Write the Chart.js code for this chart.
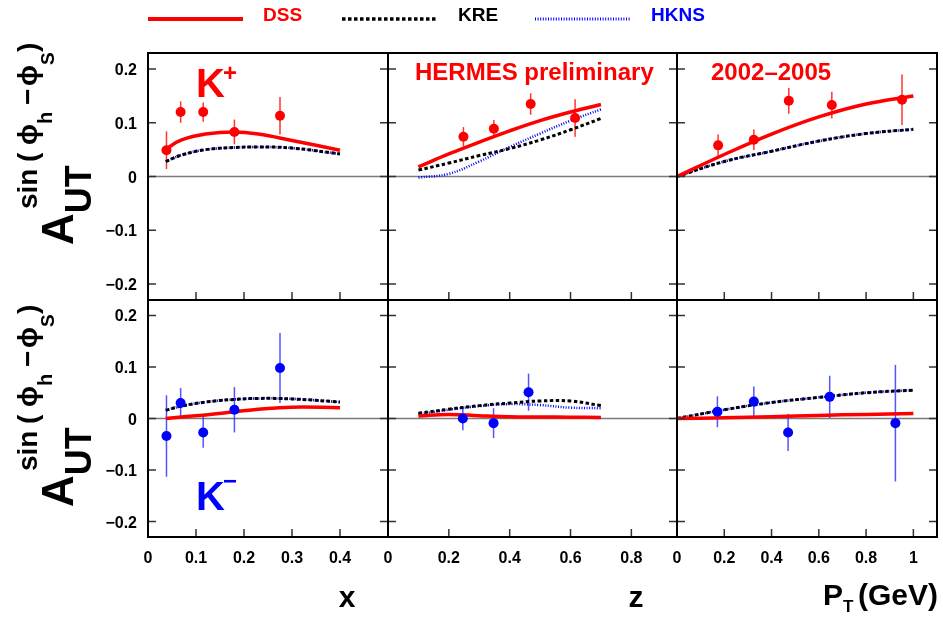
<!DOCTYPE html>
<html>
<head>
<meta charset="utf-8">
<script src="https://cdn.jsdelivr.net/npm/chart.js@4.4.1/dist/chart.umd.min.js"></script>
<style>
body { margin: 0; background: #fff; }
#wrap { position: relative; width: 943px; height: 617px; }
#wrap canvas { position: absolute; left: 0; top: 0; }
</style>
</head>
<body>
<div id="wrap"></div>
<script>
// ---- ticks ----
const xTickVals = [0, 0.1, 0.2, 0.3, 0.4];
const xTickLabels = ['0', '0.1', '0.2', '0.3', '0.4'];
const zTickVals = [0, 0.2, 0.4, 0.6, 0.8];
const zTickLabels = ['0', '0.2', '0.4', '0.6', '0.8'];
const ptTickVals = [0, 0.2, 0.4, 0.6, 0.8, 1];
const ptTickLabels = ['0', '0.2', '0.4', '0.6', '0.8', '1'];
const yTickVals = [-0.2, -0.1, 0, 0.1, 0.2];
const yTickLabels = ['\u22120.2', '\u22120.1', '0', '0.1', '0.2'];

// ---- K+ data points ----
const kpX = [0.0385, 0.068, 0.115, 0.18, 0.275];
const kpXVal = [0.049, 0.120, 0.120, 0.083, 0.113];
const kpXErr = [0.035, 0.020, 0.018, 0.023, 0.035];
const kpZ = [0.248, 0.348, 0.469, 0.615];
const kpZVal = [0.074, 0.089, 0.135, 0.109];
const kpZErr = [0.018, 0.016, 0.020, 0.035];
const kpPt = [0.174, 0.325, 0.473, 0.655, 0.952];
const kpPtVal = [0.058, 0.0685, 0.141, 0.133, 0.143];
const kpPtErr = [0.020, 0.019, 0.024, 0.025, 0.047];

// ---- K- data points ----
const kmX = [0.0385, 0.068, 0.115, 0.18, 0.275];
const kmXVal = [-0.034, 0.030, -0.027, 0.017, 0.098];
const kmXErr = [0.079, 0.029, 0.030, 0.044, 0.068];
const kmZ = [0.246, 0.347, 0.462];
const kmZVal = [0.0, -0.009, 0.051];
const kmZErr = [0.023, 0.029, 0.036];
const kmPt = [0.171, 0.325, 0.47, 0.646, 0.924];
const kmPtVal = [0.013, 0.033, -0.027, 0.042, -0.009];
const kmPtErr = [0.030, 0.029, 0.036, 0.041, 0.113];

// ---- model curves ----
const curveX = [0.037, 0.07, 0.12, 0.18, 0.23, 0.3, 0.4];
const curveZ = [0.1, 0.2, 0.3, 0.4, 0.5, 0.6, 0.7];
const curvePt = [0, 0.2, 0.4, 0.6, 0.8, 1.0];

const dssKpX = [0.051, 0.068, 0.079, 0.083, 0.079, 0.067, 0.049];
const kreKpX = [0.028, 0.040, 0.050, 0.054, 0.055, 0.053, 0.042];
const hknsKpX = [0.028, 0.040, 0.050, 0.054, 0.055, 0.053, 0.042];
const dssKpZ = [0.018, 0.042, 0.064, 0.085, 0.104, 0.120, 0.134];
const kreKpZ = [0.012, 0.025, 0.039, 0.052, 0.068, 0.087, 0.108];
const hknsKpZ = [-0.002, 0.005, 0.028, 0.055, 0.080, 0.104, 0.125];
const dssKpPt = [0.0, 0.041, 0.079, 0.111, 0.135, 0.150];
const kreKpPt = [0.0, 0.028, 0.047, 0.066, 0.080, 0.088];
const hknsKpPt = [0.0, 0.028, 0.047, 0.066, 0.080, 0.088];

const dssKmX = [0.0, 0.003, 0.007, 0.013, 0.018, 0.022, 0.021];
const kreKmX = [0.016, 0.024, 0.032, 0.037, 0.039, 0.038, 0.032];
const hknsKmX = [0.016, 0.024, 0.032, 0.037, 0.039, 0.038, 0.032];
const dssKmZ = [0.005, 0.008, 0.0055, 0.0035, 0.003, 0.0025, 0.002];
const kreKmZ = [0.010, 0.018, 0.025, 0.030, 0.034, 0.034, 0.025];
const hknsKmZ = [0.008, 0.017, 0.024, 0.028, 0.026, 0.021, 0.020];
const dssKmPt = [0.0, 0.0015, 0.0035, 0.006, 0.008, 0.0098];
const kreKmPt = [0.0, 0.017, 0.031, 0.041, 0.050, 0.055];
const hknsKmPt = [0.0, 0.017, 0.031, 0.041, 0.050, 0.055];

const FONT = '"Liberation Sans", Arial, "DejaVu Sans", sans-serif';
const RED = 'rgb(255, 0, 0)';
const BLUE = 'rgb(0, 0, 255)';
const W = 943, H = 617;

const dssStyle = { color: RED, width: 3.5, dash: [] };
const kreStyle = { color: '#000', width: 3, dash: [3.5, 2.5] };
const hknsStyle = { color: BLUE, width: 2.5, dash: [1, 1.6] };

function pointsDs(xs, ys, errs, color, errColor) {
    return {
        data: xs.map((x, i) => ({ x: x, y: ys[i] })),
        errors: errs,
        errColor: errColor,
        showLine: false,
        pointRadius: 5,
        pointBackgroundColor: color,
        pointBorderWidth: 0,
        borderColor: color
    };
}

function curveDs(xs, ys, style) {
    return {
        data: xs.map((x, i) => ({ x: x, y: ys[i] })),
        borderColor: style.color,
        borderWidth: style.width,
        borderDash: style.dash,
        pointRadius: 0,
        tension: 0.4,
        fill: false
    };
}

function txt(ctx, s, x, y, size, color, align) {
    ctx.font = 'bold ' + size + 'px ' + FONT;
    ctx.fillStyle = color;
    ctx.textAlign = align || 'left';
    ctx.textBaseline = 'alphabetic';
    ctx.fillText(s, x, y);
    return ctx.measureText(s).width;
}

function strokeLine(ctx, x1, x2, y, style) {
    ctx.save();
    ctx.strokeStyle = style.color;
    ctx.lineWidth = style.width + 0.5;
    ctx.setLineDash(style.dash);
    ctx.beginPath();
    ctx.moveTo(x1, y);
    ctx.lineTo(x2, y);
    ctx.stroke();
    ctx.restore();
}

function drawLegend(ctx) {
    strokeLine(ctx, 148, 243, 19, dssStyle);
    txt(ctx, 'DSS', 263, 21, 19, RED);
    strokeLine(ctx, 342, 437, 19, kreStyle);
    txt(ctx, 'KRE', 458, 21, 19, '#000');
    strokeLine(ctx, 535, 630, 19, hknsStyle);
    txt(ctx, 'HKNS', 651, 21, 19, BLUE);
}

// rotated A_UT^{sin(phi_h - phi_S)}
function drawYTitle(ctx, base) {
    ctx.save();
    ctx.translate(0, base);
    ctx.rotate(-Math.PI / 2);
    const wA = txt(ctx, 'A', 0, 73, 44, '#000');
    txt(ctx, 'UT', wA, 91, 36, '#000');
    const sup = [['sin', 36, 0, 28], ['(', 83, 0, 28], ['\u03d5', 100, 0, 28], ['h', 121, 15, 20],
                 ['\u2212', 140, 0, 28], ['\u03d5', 159, 0, 28], ['S', 180, 17, 19], [')', 193, 0, 28]];
    sup.forEach(s => txt(ctx, s[0], s[1], 37 + s[2], s[3], '#000'));
    ctx.restore();
}

const panelPlugin = {
    id: 'panel',
    beforeDatasetsDraw(chart, args, o) {
        const { ctx, chartArea: a, scales: { x, y } } = chart;
        ctx.save();
        const y0 = y.getPixelForValue(0);
        ctx.strokeStyle = '#7a7a7a';
        ctx.lineWidth = 1.5;
        ctx.beginPath();
        ctx.moveTo(a.left, y0);
        ctx.lineTo(a.right, y0);
        ctx.stroke();
        chart.data.datasets.forEach((ds, i) => {
            if (!ds.errors) return;
            ctx.strokeStyle = ds.errColor;
            ctx.lineWidth = 1.5;
            chart.getDatasetMeta(i).data.forEach((p, j) => {
                const v = ds.data[j].y, e = ds.errors[j];
                ctx.beginPath();
                ctx.moveTo(p.x, y.getPixelForValue(v + e));
                ctx.lineTo(p.x, y.getPixelForValue(v - e));
                ctx.stroke();
            });
        });
        ctx.restore();
    },
    afterDraw(chart, args, o) {
        const { ctx, chartArea: a, scales: { x, y } } = chart;
        ctx.save();
        // inner ticks
        ctx.strokeStyle = '#333';
        ctx.lineWidth = 1.5;
        ctx.beginPath();
        y.ticks.forEach(t => {
            const py = y.getPixelForValue(t.value);
            ctx.moveTo(a.left, py); ctx.lineTo(a.left + 8, py);
            ctx.moveTo(a.right, py); ctx.lineTo(a.right - 8, py);
        });
        x.ticks.forEach(t => {
            const px = x.getPixelForValue(t.value);
            ctx.moveTo(px, a.bottom); ctx.lineTo(px, a.bottom - 8);
        });
        ctx.stroke();
        // frame
        ctx.strokeStyle = '#000';
        ctx.lineWidth = 2;
        ctx.strokeRect(a.left, a.top, a.right - a.left, a.bottom - a.top);
        if (o.yLabels) {
            y.ticks.forEach(t => txt(ctx, t.label, a.left - 11, y.getPixelForValue(t.value) + 6, 16, '#000', 'right'));
            drawYTitle(ctx, o.yTitleBase);
        }
        if (o.xLabels) {
            x.ticks.forEach(t => txt(ctx, t.label, x.getPixelForValue(t.value), 563, 16, '#000', 'center'));
        }
        if (o.xTitle === 'x') txt(ctx, 'x', 347, 607, 30, '#000', 'center');
        if (o.xTitle === 'z') txt(ctx, 'z', 636, 607, 30, '#000', 'center');
        if (o.xTitle === 'pt') {
            const wP = txt(ctx, 'P', 823, 605, 30, '#000');
            txt(ctx, 'T', 823 + wP, 612, 17, '#000');
            txt(ctx, '(GeV)', 938, 605, 30, '#000', 'right');
        }
        if (o.legend) drawLegend(ctx);
        (o.texts || []).forEach(t => txt(ctx, t[0], t[1], t[2], t[3], t[4]));
        ctx.restore();
    }
};

function addChart(rect, xMax, tickVals, tickLabels, datasets, panel) {
    const c = document.createElement('canvas');
    c.width = W; c.height = H;
    document.getElementById('wrap').appendChild(c);
    return new Chart(c, {
        type: 'line',
        data: { datasets: datasets },
        options: {
            responsive: false,
            animation: false,
            events: [],
            layout: { padding: { left: rect[0], top: rect[1], right: W - rect[2], bottom: H - rect[3] } },
            scales: {
                x: {
                    type: 'linear', display: false, min: 0, max: xMax,
                    afterBuildTicks: s => { s.ticks = tickVals.map(v => ({ value: v })); },
                    ticks: { autoSkip: false, callback: (v, i) => tickLabels[i] }
                },
                y: {
                    type: 'linear', display: false, min: -0.23, max: 0.23,
                    afterBuildTicks: s => { s.ticks = yTickVals.map(v => ({ value: v })); },
                    ticks: { autoSkip: false, callback: (v, i) => yTickLabels[i] }
                }
            },
            plugins: {
                legend: { display: false },
                tooltip: { enabled: false },
                panel: panel
            }
        },
        plugins: [panelPlugin]
    });
}

const redErr = 'rgba(255, 0, 0, 0.8)';
const blueErr = 'rgba(40, 40, 255, 0.8)';

// top row: K+
addChart([148, 53, 388, 300], 0.5, xTickVals, xTickLabels, [
    pointsDs(kpX, kpXVal, kpXErr, RED, redErr),
    curveDs(curveX, dssKpX, dssStyle),
    curveDs(curveX, kreKpX, kreStyle),
    curveDs(curveX, hknsKpX, hknsStyle)
], { yLabels: true, yTitleBase: 245, legend: true,
     texts: [['K', 196, 97, 40, RED], ['+', 223, 81, 24, RED]] });

addChart([388, 53, 677, 300], 0.95, zTickVals, zTickLabels, [
    pointsDs(kpZ, kpZVal, kpZErr, RED, redErr),
    curveDs(curveZ, dssKpZ, dssStyle),
    curveDs(curveZ, kreKpZ, kreStyle),
    curveDs(curveZ, hknsKpZ, hknsStyle)
], { texts: [['HERMES preliminary', 415, 80, 24, RED]] });

addChart([677, 53, 937, 300], 1.1, ptTickVals, ptTickLabels, [
    pointsDs(kpPt, kpPtVal, kpPtErr, RED, redErr),
    curveDs(curvePt, dssKpPt, dssStyle),
    curveDs(curvePt, kreKpPt, kreStyle),
    curveDs(curvePt, hknsKpPt, hknsStyle)
], { texts: [['2002\u20132005', 711, 80, 24, RED]] });

// bottom row: K-
addChart([148, 300, 388, 537], 0.5, xTickVals, xTickLabels, [
    pointsDs(kmX, kmXVal, kmXErr, BLUE, blueErr),
    curveDs(curveX, dssKmX, dssStyle),
    curveDs(curveX, kreKmX, kreStyle),
    curveDs(curveX, hknsKmX, hknsStyle)
], { yLabels: true, yTitleBase: 507, xLabels: true, xTitle: 'x',
     texts: [['K', 196, 510, 40, BLUE], ['\u2212', 223, 489, 24, BLUE]] });

addChart([388, 300, 677, 537], 0.95, zTickVals, zTickLabels, [
    pointsDs(kmZ, kmZVal, kmZErr, BLUE, blueErr),
    curveDs(curveZ, dssKmZ, dssStyle),
    curveDs(curveZ, kreKmZ, kreStyle),
    curveDs(curveZ, hknsKmZ, hknsStyle)
], { xLabels: true, xTitle: 'z' });

addChart([677, 300, 937, 537], 1.1, ptTickVals, ptTickLabels, [
    pointsDs(kmPt, kmPtVal, kmPtErr, BLUE, blueErr),
    curveDs(curvePt, dssKmPt, dssStyle),
    curveDs(curvePt, kreKmPt, kreStyle),
    curveDs(curvePt, hknsKmPt, hknsStyle)
], { xLabels: true, xTitle: 'pt' });
</script>
</body>
</html>
